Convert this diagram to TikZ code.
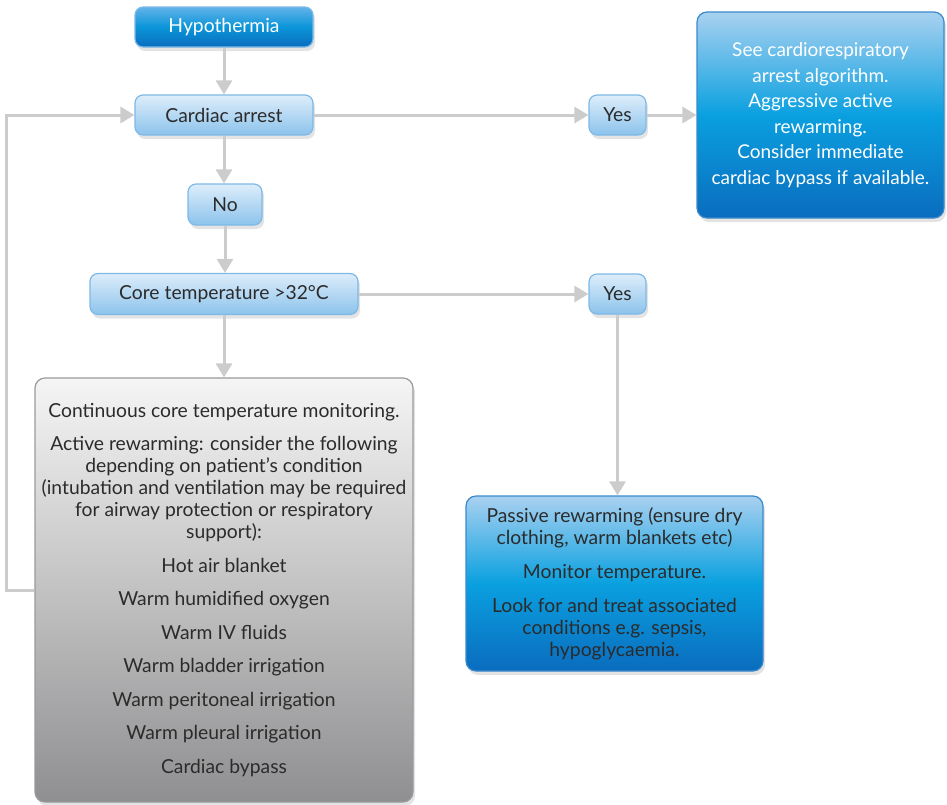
\documentclass[tikz,border=0pt]{standalone}
\usepackage{fontspec}
\setmainfont{Lato}
\usepackage{tikz}
\usetikzlibrary{arrows.meta,shadows}
\definecolor{ink}{HTML}{2B2B2B}
\definecolor{linegray}{HTML}{CCCCCC}
\definecolor{paleblue}{HTML}{DDEDFA}
\definecolor{midblue}{HTML}{8CC3EC}
\definecolor{edgeblue}{HTML}{7DB8E6}
\definecolor{skyblue}{HTML}{A9D1F0}
\definecolor{cyanblue}{HTML}{0AA0E0}
\definecolor{deepblue}{HTML}{0A6CBE}
\definecolor{toplight}{HTML}{62B2E8}
\definecolor{greytop}{HTML}{F5F5F5}
\definecolor{greybot}{HTML}{8F8F91}
\tikzset{
  base/.style={rounded corners=8pt,align=center,inner sep=0pt,
    font=\fontsize{19.3}{22}\selectfont,
    drop shadow={opacity=.22,shadow xshift=2pt,shadow yshift=-4pt}},
  lightbox/.style={base,draw=edgeblue,line width=1.2pt,text=ink,
    top color=paleblue,bottom color=midblue},
  darkbox/.style={base,draw=edgeblue,line width=1.2pt,text=white,
    top color=toplight,bottom color=deepblue,middle color=cyanblue!80!deepblue},
  bigblue/.style={base,rounded corners=10pt,draw=deepblue!80,line width=1.2pt,
    top color=skyblue,bottom color=deepblue,middle color=cyanblue},
  greybox/.style={base,rounded corners=10pt,draw=greybot!90,line width=1.2pt,text=ink,
    top color=greytop,bottom color=greybot},
  arr/.style={-{Triangle[length=14pt,width=16pt]},line width=3pt,draw=linegray},
}
\begin{document}
\begin{tikzpicture}[x=1pt,y={(0pt,-1pt)}]
  \useasboundingbox (0,0) rectangle (947,804);
  \node[darkbox,minimum width=178pt,minimum height=40pt] (h) at (224,27) {Hypothermia};
  \node[lightbox,minimum width=178pt,minimum height=40pt] (ca) at (224,115) {Cardiac arrest};
  \node[lightbox,minimum width=57pt,minimum height=40pt] (y1) at (617.5,115) {Yes};
  \node[bigblue,text=white,minimum width=247pt,minimum height=206pt,
    font=\fontsize{19}{25.5}\selectfont] (see) at (820.5,115)
    {See cardiorespiratory\\arrest algorithm.\\Aggressive active\\rewarming.\\Consider immediate\\cardiac bypass if available.};
  \node[lightbox,minimum width=74pt,minimum height=41pt] (no) at (225,204.5) {No};
  \node[lightbox,minimum width=268pt,minimum height=41pt] (ct) at (224,294) {Core temperature >32°C};
  \node[lightbox,minimum width=57pt,minimum height=40pt] (y2) at (617.5,294) {Yes};
  \node[greybox,minimum width=378pt,minimum height=424pt] (act) at (224,590)
    {Continuous core temperature monitoring.\\[11.5pt]
     Active rewarming: consider the following\\depending on patient’s condition\\
     (intubation and ventilation may be required\\for airway protection or respiratory\\support):\\[11.5pt]
     Hot air blanket\\[11.5pt]Warm humidified oxygen\\[11.5pt]Warm IV fluids\\[11.5pt]
     Warm bladder irrigation\\[11.5pt]Warm peritoneal irrigation\\[11.5pt]
     Warm pleural irrigation\\[11.5pt]Cardiac bypass};
  \node[bigblue,text=ink,minimum width=297pt,minimum height=175pt] (pas) at (614.5,583.5)
    {Passive rewarming (ensure dry\\clothing, warm blankets etc)\\[12pt]
     Monitor temperature.\\[12pt]
     Look for and treat associated\\conditions e.g. sepsis,\\hypoglycaemia.};
  \draw[arr] (h) -- (ca);
  \draw[arr] (ca) -- (y1);
  \draw[arr] (y1) -- (see);
  \draw[arr] (ca) -- (ca |- no.north);
  \draw[arr] (no) -- (no |- ct.north);
  \draw[arr] (ct) -- (y2);
  \draw[arr] (ct) -- (act);
  \draw[arr] (y2) -- (y2 |- pas.north);
  \draw[arr] (act.west) -- ++(-28,0) |- (ca.west);
\end{tikzpicture}
\end{document}
